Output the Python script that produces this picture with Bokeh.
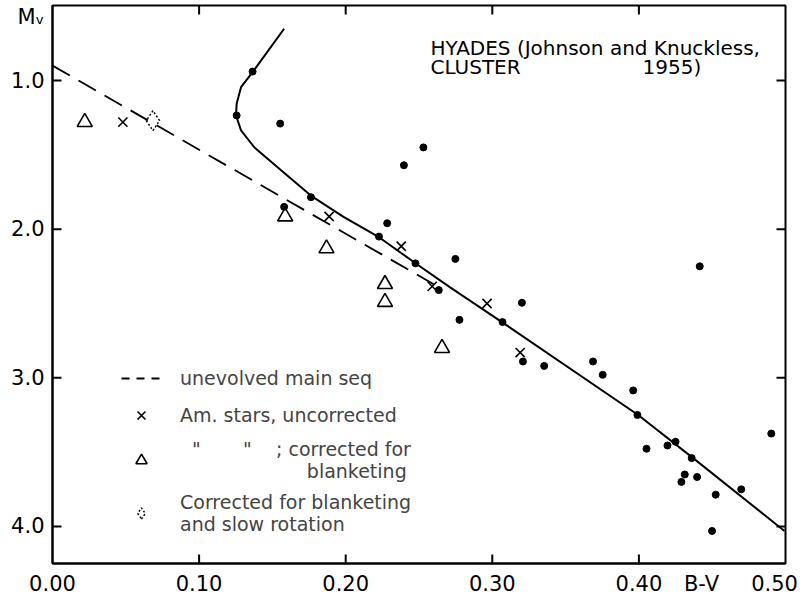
from bokeh.plotting import figure
from bokeh.models import (Range1d, LinearAxis, FixedTicker, NumeralTickFormatter,
                          Label, Legend, LegendItem)
from bokeh.embed import file_html
from bokeh.resources import INLINE

# ---------------- data ----------------
# Hyades cluster members (filled dots)
hyades_bv = [0.1365, 0.1256, 0.1553, 0.253, 0.2397, 0.1763, 0.158, 0.2283, 0.2227,
             0.2748, 0.2476, 0.4415, 0.2635, 0.3202, 0.2776, 0.307, 0.3209, 0.3687,
             0.3354, 0.3753, 0.3961, 0.399, 0.4903, 0.425, 0.4195, 0.4052, 0.436,
             0.4313, 0.4397, 0.429, 0.4698, 0.4524, 0.4499]
hyades_mv = [0.94, 1.235, 1.29, 1.45, 1.57, 1.785, 1.85, 1.96, 2.05,
             2.20, 2.23, 2.25, 2.41, 2.495, 2.61, 2.625, 2.89, 2.89,
             2.92, 2.98, 3.085, 3.25, 3.375, 3.43, 3.455, 3.477, 3.54,
             3.65, 3.667, 3.70, 3.75, 3.786, 4.03]

# Am stars, uncorrected (crosses)
am_bv = [0.048, 0.1887, 0.2379, 0.259, 0.2964, 0.319]
am_mv = [1.28, 1.915, 2.115, 2.385, 2.50, 2.83]

# Am stars corrected for blanketing (open triangles)
amc_bv = [0.022, 0.1587, 0.1869, 0.2268, 0.2268, 0.2657]
amc_mv = [1.28, 1.915, 2.13, 2.37, 2.49, 2.80]

# corrected for blanketing and slow rotation (dotted diamond)
amr_bv = [0.0685]
amr_mv = [1.27]

# unevolved main sequence (dashed)
zams_bv = [0.0, 0.26]
zams_mv = [0.90, 2.37]

# cluster sequence (solid curve)
seq_bv = [0.158, 0.1365, 0.1286, 0.1256, 0.1252, 0.1286, 0.1376, 0.1535, 0.1762,
          0.1988, 0.2227, 0.2476, 0.271, 0.3066, 0.3995, 0.437, 0.4993]
seq_mv = [0.652, 0.944, 1.045, 1.157, 1.235, 1.336, 1.449, 1.583, 1.774,
          1.919, 2.054, 2.229, 2.39, 2.625, 3.25, 3.54, 4.03]

# axis ticks and the texts of the tick-label rows
x_ticks = [0.1, 0.2, 0.3, 0.4]
y_ticks = [1.0, 2.0, 3.0, 4.0]
x_labels = ["0.00", "0.10", "0.20", "0.30", "0.40", "B-V", "0.50"]
y_labels = ["M\u1d65", "1.0", "2.0", "3.0", "4.0"]

legend_labels = ["unevolved main seq",
                 "Am. stars, uncorrected",
                 "\u00a0\u00a0\"\u00a0\u00a0\u00a0\u00a0\u00a0\u00a0\u00a0\"\u00a0\u00a0\u00a0\u00a0; corrected for\n"
                 + "\u00a0" * 21 + "blanketing",
                 "Corrected for blanketing\nand slow rotation"]

# where the label texts sit along each axis (layout, not data)
x_label_at = [0.0, 0.1, 0.2, 0.3, 0.4, 0.4427, 0.4925]
y_label_at = [0.573, 1.0, 2.0, 3.0, 4.0]

FONT = "DejaVu Sans"
Y_TOP, Y_BOTTOM = 0.4955, 4.2489
X_LEFT, X_RIGHT = 0.0, 0.5
W, H = 803, 601
B_LEFT, B_RIGHT, B_TOP, B_BOTTOM = 52, 18, 5, 38
TICK_PX = 9

p = figure(width=W, height=H, output_backend="svg", toolbar_location=None,
           x_range=Range1d(X_LEFT, X_RIGHT), y_range=Range1d(Y_BOTTOM, Y_TOP),
           min_border_left=B_LEFT, min_border_right=B_RIGHT, min_border_top=B_TOP,
           min_border_bottom=B_BOTTOM, x_axis_type=None, y_axis_type=None)
p.grid.visible = False
p.outline_line_color = "black"
p.outline_line_width = 2
p.background_fill_color = "white"
p.border_fill_color = "white"


def label_axis(at, texts):
    """axis that carries the tick-label texts"""
    ax = LinearAxis(ticker=FixedTicker(ticks=at))
    ax.axis_line_width = 2
    ax.axis_line_color = "black"
    ax.major_tick_line_color = None
    ax.major_tick_in = 0
    ax.major_tick_out = 0
    ax.minor_tick_line_color = None
    ax.formatter = NumeralTickFormatter(format="0.00")
    ax.major_label_overrides = dict(zip(at, texts))
    ax.major_label_text_font = FONT
    ax.major_label_text_font_size = "21px"
    ax.major_label_text_color = "black"
    ax.major_label_standoff = 8
    return ax


p.add_layout(label_axis(x_label_at, x_labels), "below")
p.add_layout(label_axis(y_label_at, y_labels), "left")

# inward tick marks on all four sides of the frame (9 px long)
dy = TICK_PX * (Y_BOTTOM - Y_TOP) / (H - B_TOP - B_BOTTOM)
dx = TICK_PX * (X_RIGHT - X_LEFT) / (W - B_LEFT - B_RIGHT)
nx, ny = len(x_ticks), len(y_ticks)
tick_style = dict(line_color="black", line_width=2)
p.segment(x0=x_ticks, y0=[Y_BOTTOM] * nx, x1=x_ticks, y1=[Y_BOTTOM - dy] * nx, **tick_style)
p.segment(x0=x_ticks, y0=[Y_TOP] * nx, x1=x_ticks, y1=[Y_TOP + dy] * nx, **tick_style)
p.segment(x0=[X_LEFT] * ny, y0=y_ticks, x1=[X_LEFT + dx] * ny, y1=y_ticks, **tick_style)
p.segment(x0=[X_RIGHT] * ny, y0=y_ticks, x1=[X_RIGHT - dx] * ny, y1=y_ticks, **tick_style)

# curves
seq_r = p.line(seq_bv, seq_mv, line_color="black", line_width=2)
zams_r = p.line(zams_bv, zams_mv, line_color="black", line_width=1.8, line_dash="20 10")
zams_leg = p.line(zams_bv, zams_mv, line_color="black", line_width=1.8, line_dash="8 7",
                  visible=False)

# points
p.scatter(hyades_bv, hyades_mv, marker="circle", size=7, fill_color="black", line_color="black")
am_r = p.scatter(am_bv, am_mv, marker="x", size=13, line_color="black", line_width=1.6)
amc_r = p.scatter(amc_bv, amc_mv, marker="triangle", size=15, fill_color=None,
                  line_color="black", line_width=1.6)
amr_r = p.scatter(amr_bv, amr_mv, marker="diamond", size=20, fill_color=None,
                  line_color="black", line_width=1.4, line_dash="2 2")

legend = Legend(items=[LegendItem(label=legend_labels[0], renderers=[zams_leg]),
                       LegendItem(label=legend_labels[1], renderers=[am_r]),
                       LegendItem(label=legend_labels[2], renderers=[amc_r]),
                       LegendItem(label=legend_labels[3], renderers=[amr_r])],
                location=(69, 28), glyph_width=40, glyph_height=28, label_standoff=19,
                spacing=9, padding=0, margin=0, border_line_alpha=0,
                background_fill_alpha=0, label_text_font=FONT,
                label_text_font_size="19px")
p.add_layout(legend, "center")

# heading inside the frame
def text(x, y, s, size):
    p.add_layout(Label(x=x, y=y, text=s, text_font=FONT, text_font_size=size,
                       text_color="black", text_align="left", text_baseline="alphabetic"))

text(0.2578, 0.7847, "HYADES (Johnson and Knuckless,", "20px")
text(0.2578, 0.9125, "CLUSTER", "20px")
text(0.4025, 0.9125, "1955)", "20px")

open("out.html", "w").write(file_html(p, INLINE))
